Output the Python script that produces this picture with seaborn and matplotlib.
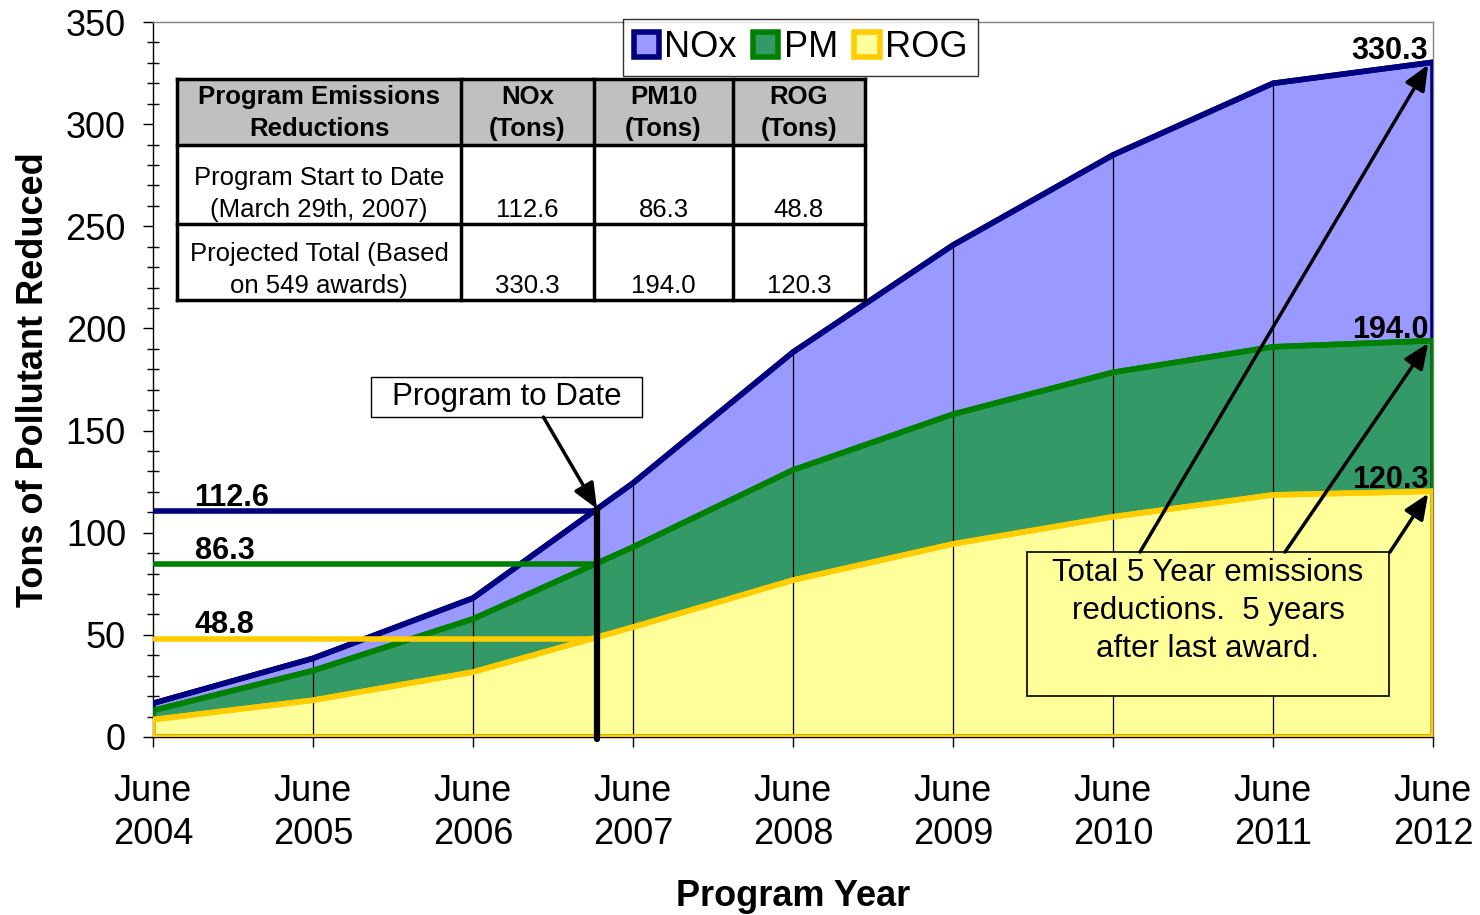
import numpy as np
import pandas as pd
import matplotlib
matplotlib.use("Agg")
import matplotlib.pyplot as plt
from matplotlib.patches import Patch, Rectangle
import seaborn as sns

# -------- data --------
years = ["June\n2004", "June\n2005", "June\n2006", "June\n2007", "June\n2008",
         "June\n2009", "June\n2010", "June\n2011", "June\n2012"]
nox = [16.5, 38.5, 68.0, 124.3, 188.4, 240.8, 284.9, 320.0, 330.3]
pm = [13.0, 32.5, 57.8, 93.0, 130.7, 158.0, 178.5, 191.0, 194.0]
rog = [8.5, 18.0, 31.8, 53.8, 76.8, 94.5, 107.8, 118.5, 120.3]

series_names = ["NOx", "PM", "ROG"]
to_date_x = 2.775                      # March 29th 2007 on the year axis
to_date_vals = [110.7, 84.8, 48.2]     # where the horizontal lines sit
to_date_labels = ["112.6", "86.3", "48.8"]
end_labels = ["330.3", "194.0", "120.3"]

table_header = ["Program Emissions\nReductions", "NOx\n(Tons)", "PM10\n(Tons)", "ROG\n(Tons)"]
table_rows = [
    ["Program Start to Date\n(March 29th, 2007)", "112.6", "86.3", "48.8"],
    ["Projected Total (Based\non 549 awards)", "330.3", "194.0", "120.3"],
]

line_colors = ["#000080", "#008000", "#FFCC00"]
fill_colors = ["#9999FF", "#339966", "#FFFF99"]

x = np.arange(len(years))
df = pd.DataFrame({"x": np.tile(x, 3),
                   "value": nox + pm + rog,
                   "series": np.repeat(series_names, len(years))})

# -------- style --------
sns.set_style("ticks")
plt.rcParams["font.family"] = ["Liberation Sans", "DejaVu Sans"]
plt.rcParams.update({"text.color": "black", "axes.labelcolor": "black",
                     "xtick.color": "black", "ytick.color": "black"})

fig = plt.figure(figsize=(14.8, 9.15), dpi=100)
ax = fig.add_axes([153 / 1480, 1 - 737 / 915, 1280 / 1480, 715 / 915])

# filled areas (overlapping, not stacked)
for vals, fc in zip([nox, pm, rog], fill_colors):
    ax.fill_between(x, 0, vals, facecolor=fc, edgecolor="none", lw=0, zorder=1)

# drop lines inside the area
ax.vlines(x[1:-1], 0, np.array(nox)[1:-1], color="black", lw=0.9, zorder=2)

# outlines of each area
for vals, lc in zip([nox, pm, rog], line_colors):
    ax.fill_between(x, 0, vals, facecolor="none", edgecolor=lc, lw=4, zorder=3)

sns.lineplot(data=df, x="x", y="value", hue="series", palette=line_colors,
             linewidth=4, legend=False, ax=ax, zorder=4)

# program-to-date lines
for v, lc, lab in zip(to_date_vals, line_colors, to_date_labels):
    ax.plot([0.01, to_date_x], [v, v], color=lc, lw=4, solid_capstyle="round", zorder=5)
    ax.text(0.26, v + 2.5, lab, fontsize=22, fontweight="bold", va="baseline", zorder=6)
ax.plot([to_date_x, to_date_x], [-1.2, to_date_vals[0] + 1], color="black", lw=4.5,
        solid_capstyle="round", zorder=6, clip_on=False)

ax.add_patch(Rectangle((1.3625, 156.6), 3.056 - 1.3625, 176.2 - 156.6,
                       facecolor="white", edgecolor="black", lw=1, zorder=7))
ax.text(2.209, 166.4, "Program to Date", fontsize=22.5, ha="center", va="center",
        zorder=8)
arrow = dict(arrowstyle="-|>,head_length=0.7,head_width=0.3", color="black", lw=2.5,
             mutation_scale=22, shrinkA=0, shrinkB=0)
ax.annotate("", xy=(to_date_x, to_date_vals[0] + 1), xytext=(2.44, 156.6),
            arrowprops=arrow, zorder=7)

# end labels
for v, lab in zip([nox[-1], pm[-1], rog[-1]], end_labels):
    ax.text(7.97, v + 1.5, lab, fontsize=22, fontweight="bold", ha="right",
            va="baseline", zorder=7)

# 5 year annotation box
ax.add_patch(Rectangle((5.4625, 20.07), 7.725 - 5.4625, 90.55 - 20.07,
                       facecolor="#FFFF99", edgecolor="black", lw=1.2, zorder=7))
ax.text(6.594, 87.8, "Total 5 Year emissions\nreductions.  5 years\nafter last award.",
        fontsize=22.5, ha="center", va="top", linespacing=1.36, zorder=8)
for sx, v in zip([6.169, 7.075, 7.731], [nox[-1], pm[-1], rog[-1]]):
    ax.annotate("", xy=(7.97, v - 1.2), xytext=(sx, 90.55), arrowprops=arrow, zorder=8)

# -------- axes --------
ax.set_xlim(0, 8)
ax.set_ylim(0, 350)
ax.set_xticks(x)
ax.set_xticklabels(years, fontsize=26, linespacing=1.32)
ax.set_yticks(np.arange(0, 351, 50))
ax.set_yticks(np.arange(0, 351, 10), minor=True)
ax.tick_params(axis="y", which="major", labelsize=26, direction="out", length=7.5,
               width=1, pad=12, color="black")
ax.tick_params(axis="y", which="minor", direction="inout", length=9, width=1, color="black")
ax.tick_params(axis="x", which="major", direction="out", length=7.5, width=1,
               pad=19, color="black")
for s in ["left", "bottom"]:
    ax.spines[s].set_color("black")
    ax.spines[s].set_linewidth(1)
for s in ["top", "right"]:
    ax.spines[s].set_color("#808080")
    ax.spines[s].set_linewidth(1)
    ax.spines[s].set_visible(True)
ax.set_facecolor("white")

ax.set_xlabel("Program Year", fontsize=26, fontweight="bold")
ax.xaxis.set_label_coords(0.5, -0.198)
ax.set_ylabel("Tons of Pollutant Reduced", fontsize=26, fontweight="bold")
ax.yaxis.set_label_coords(-0.080, 0.5)

# legend
handles = [Patch(facecolor=fc, edgecolor=lc, lw=4, label=n)
           for fc, lc, n in zip(fill_colors, line_colors, series_names)]
leg = ax.legend(handles=handles, loc="upper center", bbox_to_anchor=(0.506, 1.004),
                ncol=3, fontsize=26, frameon=True, fancybox=False, handlelength=0.7,
                handleheight=0.7, handletextpad=0.15, columnspacing=0.45, borderpad=0.3,
                borderaxespad=0)
leg.get_frame().set_edgecolor("black")
leg.get_frame().set_linewidth(1)
leg.set_zorder(10)

# -------- table --------
tax = fig.add_axes([177 / 1480, 1 - 300 / 915, 688 / 1480, 221 / 915], zorder=11)
tax.set_xlim(0, 688)
tax.set_ylim(221, 0)
tax.axis("off")
col_edges = [0, 284, 417, 556, 688]
row_edges = [0, 66, 145, 221]
tax.add_patch(Rectangle((0, 0), 688, 66, facecolor="#C0C0C0", edgecolor="none"))
tax.add_patch(Rectangle((0, 66), 688, 155, facecolor="white", edgecolor="none"))
for c in col_edges:
    tax.plot([c, c], [0, 221], color="black", lw=2.5, solid_capstyle="projecting", clip_on=False)
for r in row_edges:
    tax.plot([0, 688], [r, r], color="black", lw=2.5, solid_capstyle="projecting", clip_on=False)
for j, txt in enumerate(table_header):
    cx = (col_edges[j] + col_edges[j + 1]) / 2
    tax.text(cx, 34, txt, fontsize=18.5, fontweight="bold", ha="center", va="center",
             linespacing=1.4)
for i, row in enumerate(table_rows):
    bottom = row_edges[i + 2]
    for j, txt in enumerate(row):
        cx = (col_edges[j] + col_edges[j + 1]) / 2
        tax.text(cx, bottom - 7, txt, fontsize=18.5, ha="center", va="baseline",
                 linespacing=1.4, multialignment="center")

fig.savefig("out.png", dpi=100, facecolor="white")
